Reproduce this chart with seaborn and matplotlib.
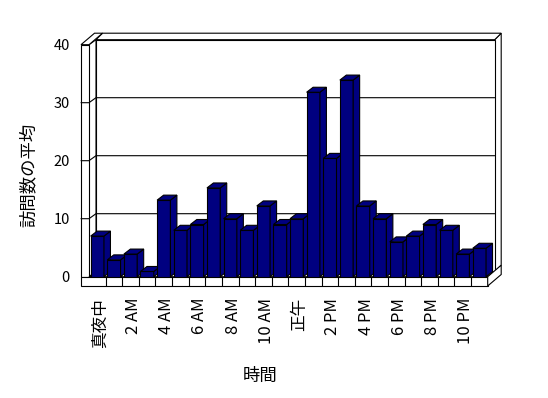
import numpy as np
import pandas as pd
import matplotlib
matplotlib.use("Agg")
import matplotlib.pyplot as plt
import seaborn as sns
from matplotlib.patches import Polygon
from matplotlib.lines import Line2D
from matplotlib.transforms import IdentityTransform, ScaledTranslation

# ---- data ----
hours = ["真夜中"] + [f"{h} AM" for h in range(1, 12)] + ["正午"] + [f"{h} PM" for h in range(1, 12)]
visits = [7.0, 2.9, 3.9, 0.9, 13.2, 8.0, 9.0, 15.3, 10.0, 8.0, 12.2, 9.0,
          10.0, 31.8, 20.4, 33.9, 12.2, 10.0, 6.0, 7.0, 9.0, 8.0, 3.9, 4.9]
y_ticks = [0, 10, 20, 30, 40]
x_title = "時間"
y_title = "訪問数の平均"
bar_color = "#000080"

sns.set_theme(style="white")
plt.rcParams['font.family'] = ['Noto Sans CJK JP', 'DejaVu Sans']

W, H = 548, 398
fig = plt.figure(figsize=(W / 100, H / 100), dpi=100, facecolor="white")
fx0, fx1 = 89.0, 487.7      # front plane x (pixels)
fy0, fy40 = 276.7, 44.7     # front plane y for 0 and 40 (pixels from top)
ax = fig.add_axes([fx0 / W, (H - fy0) / H, (fx1 - fx0) / W, (fy0 - fy40) / H])
ax.patch.set_visible(False)

df = pd.DataFrame({"hour": hours, "visits": visits})
sns.barplot(data=df, x="hour", y="visits", color=bar_color, saturation=1,
            width=0.8, edgecolor="black", linewidth=0.8, ax=ax)
ax.set_xlim(-0.5, 23.5)
ax.set_ylim(0, 40)
for s in ax.spines.values():
    s.set_visible(False)

ID = IdentityTransform()
LW = 0.8


def poly(pts, z, fc="white"):
    ax.add_patch(Polygon(pts, closed=True, fc=fc, ec="black", lw=LW,
                         transform=ID, clip_on=False, zorder=z))


def line(xs, ys, z):
    ax.add_line(Line2D(xs, ys, color="black", lw=LW, transform=ID,
                       clip_on=False, zorder=z))


def X(v):
    return ax.transData.transform((v, 0))[0]


def Y(v):
    return ax.transData.transform((0, v))[1]


xl, xr = X(-0.5), X(23.5)
yb, yt = Y(0), Y(40)
Dx, Dy = 7.0, 5.0      # floor front -> back wall face
Tx, Ty = 6.5, 6.5      # back wall thickness
LWt = 8.0              # left wall thickness
FT = 9.3               # floor thickness

# back wall
poly([(xr + Dx, yt + Dy), (xr + Dx + Tx, yt + Dy + Ty),
      (xr + Dx + Tx, yb + Dy + Ty), (xr + Dx, yb + Dy)], 1.0)
poly([(xl + Dx, yt + Dy), (xr + Dx, yt + Dy), (xr + Dx + Tx, yt + Dy + Ty),
      (xl + Dx + Tx, yt + Dy + Ty)], 1.0)
poly([(xl + Dx, yb + Dy), (xr + Dx, yb + Dy), (xr + Dx, yt + Dy),
      (xl + Dx, yt + Dy)], 1.0)
# left wall
poly([(xl, yb), (xl, yt), (xl + Dx, yt + Dy), (xl + Dx, yb + Dy)], 1.1)
poly([(xl - LWt, yt), (xl, yt), (xl + Dx + Tx, yt + Dy + Ty),
      (xl - LWt + Dx + Tx, yt + Dy + Ty)], 1.1)
poly([(xl - LWt, yb), (xl, yb), (xl, yt), (xl - LWt, yt)], 1.1)
# floor
poly([(xl, yb), (xr, yb), (xr + Dx, yb + Dy), (xl + Dx, yb + Dy)], 1.5)
poly([(xl - LWt, yb - FT), (xr, yb - FT), (xr, yb), (xl - LWt, yb)], 1.5)
poly([(xr, yb), (xr, yb - FT), (xr + Dx + Tx, yb - FT + Dy + Ty),
      (xr + Dx + Tx, yb + Dy + Ty)], 1.5)
for i in range(23):
    xb = X(i + 0.5)
    line([xb, xb], [yb, yb - FT], 1.6)

# gridlines (front tick -> left wall -> back wall)
for v in y_ticks[1:-1]:
    yv = Y(v)
    line([xl - LWt, xl, xl + Dx, xr + Dx], [yv, yv, yv + Dy, yv + Dy], 1.3)

# 3D faces of bars
bdx, bdy = 6.5, 5.0
for i, p in enumerate(ax.patches[:len(visits)]):
    z = 5 + 0.01 * i
    p.set_zorder(z)
    x0d, wd, hd = p.get_x(), p.get_width(), p.get_height()
    (px0, py0) = ax.transData.transform((x0d, 0))
    (px1, py1) = ax.transData.transform((x0d + wd, hd))
    poly([(px1, py0), (px1 + bdx, py0 + bdy), (px1 + bdx, py1 + bdy), (px1, py1)], z, fc=bar_color)
    poly([(px0, py1), (px1, py1), (px1 + bdx, py1 + bdy), (px0 + bdx, py1 + bdy)], z, fc=bar_color)

ax.set_xticks(range(0, 24, 2))
ax.set_xticklabels(hours[::2], rotation=90)
ax.set_yticks(y_ticks)
ax.tick_params(axis="x", length=0, pad=15.3, labelsize=12, colors="black")
ax.tick_params(axis="y", length=0, pad=13.7, labelsize=10.5, colors="black")
shift = ScaledTranslation(3 / 100, 0, fig.dpi_scale_trans)
for lab in ax.get_xticklabels():
    lab.set_transform(lab.get_transform() + shift)

ax.set_xlabel(x_title, fontsize=12.5, color="black")
ax.set_ylabel(y_title, fontsize=12.5, color="black")
ax.xaxis.set_label_coords((260 - fx0) / (fx1 - fx0), (fy0 - 367) / (fy0 - fy40))
ax.yaxis.set_label_coords((38 - fx0) / (fx1 - fx0), (fy0 - 175) / (fy0 - fy40))

fig.savefig("out.png", dpi=100, facecolor="white")
